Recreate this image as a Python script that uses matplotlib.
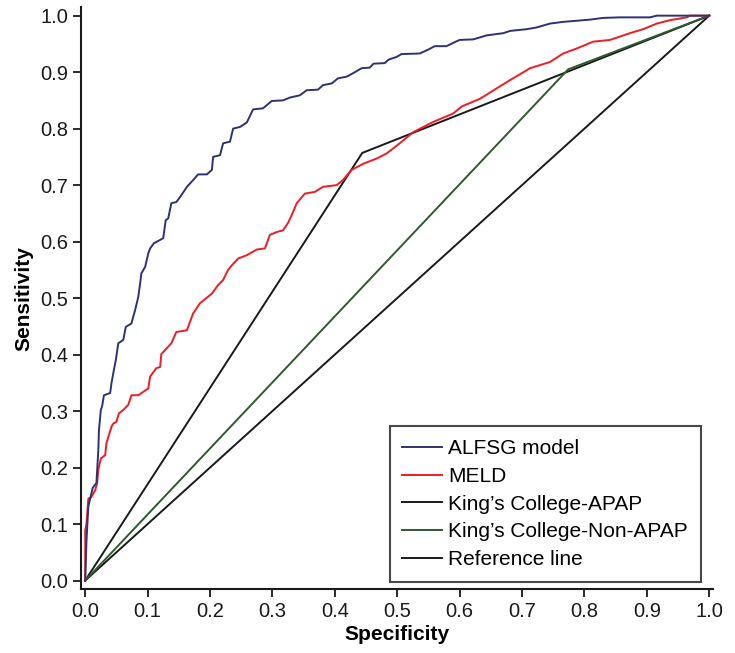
import matplotlib as mpl
import matplotlib.pyplot as plt

mpl.use("Agg")

plt.rcParams["font.family"] = ["Liberation Sans", "DejaVu Sans"]

# ROC curves (x = specificity axis, y = sensitivity)
alfsg_x = [0.0, 0.002, 0.005, 0.012, 0.018, 0.021, 0.022, 0.025, 0.027, 0.030,
           0.040, 0.042, 0.046, 0.049, 0.053, 0.061, 0.065, 0.074, 0.080, 0.085,
           0.088, 0.090, 0.096, 0.101, 0.104, 0.110, 0.120, 0.125, 0.129, 0.133,
           0.138, 0.146, 0.154, 0.163, 0.173, 0.181, 0.195, 0.203, 0.205, 0.216,
           0.221, 0.232, 0.237, 0.248, 0.259, 0.269, 0.285, 0.299, 0.317, 0.328,
           0.344, 0.355, 0.373, 0.381, 0.395, 0.405, 0.419, 0.429, 0.443, 0.456,
           0.462, 0.480, 0.486, 0.499, 0.507, 0.536, 0.550, 0.560, 0.579, 0.590,
           0.600, 0.622, 0.643, 0.670, 0.681, 0.707, 0.723, 0.745, 0.766, 0.788,
           0.809, 0.830, 0.857, 0.905, 0.916, 1.0]
alfsg_y = [0.0, 0.070, 0.131, 0.164, 0.173, 0.231, 0.266, 0.302, 0.308, 0.328,
           0.332, 0.349, 0.373, 0.390, 0.420, 0.426, 0.449, 0.455, 0.479, 0.502,
           0.526, 0.544, 0.555, 0.579, 0.588, 0.597, 0.603, 0.606, 0.638, 0.641,
           0.668, 0.670, 0.682, 0.697, 0.709, 0.719, 0.719, 0.727, 0.750, 0.753,
           0.774, 0.777, 0.800, 0.803, 0.811, 0.834, 0.836, 0.849, 0.850, 0.855,
           0.859, 0.868, 0.869, 0.877, 0.880, 0.889, 0.892, 0.898, 0.907, 0.908,
           0.915, 0.916, 0.922, 0.927, 0.932, 0.933, 0.940, 0.946, 0.946, 0.952,
           0.957, 0.958, 0.965, 0.969, 0.973, 0.976, 0.979, 0.986, 0.989, 0.991,
           0.993, 0.996, 0.997, 0.997, 1.0, 1.0]

meld_x = [0.0, 0.0, 0.002, 0.005, 0.010, 0.016, 0.019, 0.021, 0.025, 0.032,
          0.034, 0.042, 0.045, 0.050, 0.054, 0.061, 0.069, 0.074, 0.085, 0.101,
          0.104, 0.114, 0.120, 0.122, 0.138, 0.146, 0.163, 0.173, 0.184, 0.203,
          0.213, 0.221, 0.229, 0.235, 0.245, 0.259, 0.275, 0.288, 0.296, 0.307,
          0.317, 0.325, 0.331, 0.339, 0.352, 0.368, 0.381, 0.403, 0.413, 0.427,
          0.446, 0.467, 0.483, 0.504, 0.526, 0.558, 0.590, 0.603, 0.633, 0.659,
          0.681, 0.713, 0.745, 0.766, 0.788, 0.814, 0.841, 0.873, 0.894, 0.916,
          0.937, 0.964, 0.969, 1.0]
meld_y = [0.0, 0.089, 0.100, 0.145, 0.148, 0.160, 0.172, 0.196, 0.216, 0.222,
          0.243, 0.272, 0.278, 0.281, 0.296, 0.302, 0.311, 0.328, 0.328, 0.340,
          0.361, 0.376, 0.378, 0.401, 0.420, 0.440, 0.443, 0.473, 0.491, 0.508,
          0.523, 0.532, 0.550, 0.558, 0.570, 0.576, 0.586, 0.588, 0.612, 0.617,
          0.620, 0.633, 0.647, 0.668, 0.685, 0.688, 0.697, 0.700, 0.709, 0.727,
          0.738, 0.747, 0.756, 0.774, 0.794, 0.812, 0.827, 0.839, 0.853, 0.871,
          0.886, 0.907, 0.918, 0.933, 0.942, 0.954, 0.957, 0.969, 0.976, 0.986,
          0.992, 0.997, 1.0, 1.0]

kc_apap_x = [0.0, 0.444, 1.0]
kc_apap_y = [0.0, 0.757, 1.0]

kc_non_apap_x = [0.0, 0.774, 1.0]
kc_non_apap_y = [0.0, 0.905, 1.0]

ref_x = [0.0, 1.0]
ref_y = [0.0, 1.0]

ticks = [0.0, 0.1, 0.2, 0.3, 0.4, 0.5, 0.6, 0.7, 0.8, 0.9, 1.0]

fig = plt.figure(figsize=(7.35, 6.53), dpi=100)
ax = fig.add_axes([0.110, 0.098, 0.860, 0.891])

lw = 1.4
ax.plot(ref_x, ref_y, color="#1a1a1a", lw=lw, label="Reference line", zorder=2)
ax.plot(kc_apap_x, kc_apap_y, color="#1a1a1a", lw=lw, label="King’s College-APAP", zorder=3)
ax.plot(kc_non_apap_x, kc_non_apap_y, color="#2f5a2f", lw=lw,
        label="King’s College-Non-APAP", zorder=4)
ax.plot(meld_x, meld_y, color="#ee1c25", lw=lw, label="MELD", zorder=5)
ax.plot(alfsg_x, alfsg_y, color="#2e3275", lw=lw, label="ALFSG model", zorder=6)

ax.set_xlim(-0.007, 1.006)
ax.set_ylim(-0.015, 1.015)
ax.set_xticks(ticks)
ax.set_yticks(ticks)
ax.set_xticklabels([f"{t:.1f}" for t in ticks])
ax.set_yticklabels([f"{t:.1f}" for t in ticks])
ax.tick_params(direction="out", length=6, width=1.3, labelsize=14.5,
               colors="#1a1a1a", pad=3)

for side in ("top", "right"):
    ax.spines[side].set_visible(False)
for side in ("left", "bottom"):
    ax.spines[side].set_linewidth(1.5)
    ax.spines[side].set_color("#1a1a1a")

ax.set_xlabel("Specificity", fontsize=15, fontweight="bold", labelpad=3)
ax.set_ylabel("Sensitivity", fontsize=15, fontweight="bold", labelpad=5)

handles, labels = ax.get_legend_handles_labels()
order = ["ALFSG model", "MELD", "King’s College-APAP", "King’s College-Non-APAP", "Reference line"]
hmap = dict(zip(labels, handles))
leg = ax.legend([hmap[k] for k in order], order, loc="lower right",
                bbox_to_anchor=(0.981, 0.012), fontsize=15, frameon=True,
                fancybox=False, edgecolor="#1a1a1a", handlelength=1.9,
                handletextpad=0.3, labelspacing=0.42, borderpad=0.62,
                borderaxespad=0)
leg.get_frame().set_linewidth(1.5)

fig.savefig("out.png", dpi=100)
